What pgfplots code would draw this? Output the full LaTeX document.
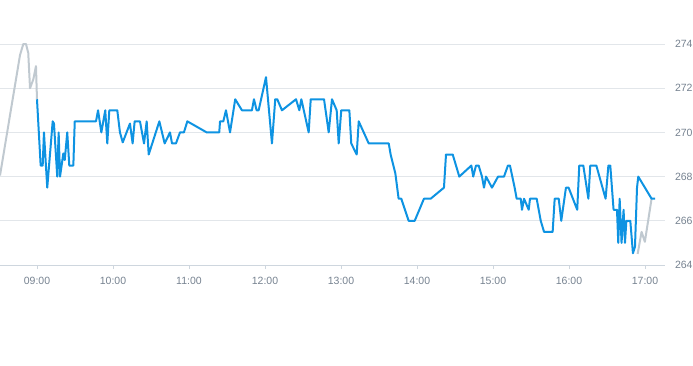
\documentclass[border=0pt]{standalone}
\usepackage{fontspec}
\setmainfont{Liberation Sans}
\usepackage{pgfplots}
\pgfplotsset{compat=1.18}
\definecolor{bluel}{RGB}{14,147,226}
\definecolor{grayl}{RGB}{192,201,208}
\definecolor{gridc}{RGB}{226,230,234}
\definecolor{axisc}{RGB}{206,214,222}
\definecolor{labc}{RGB}{118,130,144}
\begin{document}
\begin{tikzpicture}[x=1pt,y=1pt]
\path[use as bounding box] (0,-100) rectangle (693,265);
\begin{axis}[
  at={(0,0)}, anchor=south west,
  scale only axis, width=665pt, height=221pt,
  xmin=510.8, xmax=1035.8, ymin=264, ymax=274,
  clip=false,
  axis x line*=bottom, axis y line*=right,
  y axis line style={draw=none},
  x axis line style={draw=axisc, line width=0.8pt},
  ytick={264,266,...,274},
  xtick={540,600,...,1020},
  xticklabels={09:00,10:00,11:00,12:00,13:00,14:00,15:00,16:00,17:00},
  xtick align=outside,
  x tick style={draw=axisc, line width=0.8pt},
  major tick length=4pt,
  y tick style={draw=none},
  ymajorgrids, grid style={draw=gridc, line width=0.8pt},
  tick label style={font=\fontsize{10.5}{12}\selectfont, text=labc},
  yticklabel style={anchor=west, xshift=6.5pt},
  xticklabel style={yshift=-5pt},
  /pgf/number format/assume math mode=true,
  yticklabel={\pgfmathprintnumber[fixed,precision=0]{\tick}},
]
\addplot[grayl, line width=2pt, line join=round] coordinates {
(510.8,268.05) (526.6,273.5) (529.2,274) (531.3,274) (533.1,273.6) (534.5,272) (537.1,272.4) (539.2,273) (540,271.5)
};
\addplot[grayl, line width=2pt, line join=round] coordinates {
(1014.2,264.5) (1017.3,265.5) (1019.9,265.05) (1025.2,267)
};
\addplot[bluel, line width=2pt, line join=round] coordinates {
(540,271.5) (542.9,268.5) (544.5,268.5) (545.5,270) (548.1,267.5) (552.4,270.5) (553.4,270.4)
(556,268) (557.1,270) (558.2,268) (560.8,269.05) (561.9,268.75) (563.9,270) (565.5,268.5)
(568.7,268.5) (569.8,270.5) (586.6,270.5) (588.2,271) (590.8,270) (593.9,271) (595.5,269.5)
(597.1,271) (603.4,271) (605.5,270) (607.7,269.55) (613.4,270.4) (615.5,269.5) (617.1,270.5)
(621.3,270.5) (624.5,269.5) (626.6,270.5) (628.2,269) (636.6,270.5) (640.8,269.5) (645,270)
(646.6,269.5) (649.7,269.5) (652.9,270) (656,270) (658.7,270.5) (674,270) (683.9,270)
(684.5,270.5) (687.1,270.5) (689.2,271) (692.4,270) (696.5,271.5) (701.8,271) (709.7,271)
(711.3,271.5) (713.4,271) (715,271) (720.8,272.5) (725.5,269.5) (728.1,271.5) (729.7,271.5)
(733.4,271) (744.5,271.5) (747.1,271) (748.7,271.5) (754.5,270) (756.1,271.5) (766.6,271.5)
(770.3,270) (772.9,271.5) (776.6,271) (778.2,269.5) (780.2,271) (786.6,271) (788.1,269.5)
(792.4,269) (794,270.5) (801.9,269.5) (817.7,269.5) (819.2,269) (822.9,268.15) (825.5,267)
(827.6,267) (833.4,266) (838.2,266) (845.5,267) (850.8,267) (861.3,267.5) (862.9,269)
(868.2,269) (873.4,268) (882.9,268.5) (884.4,268) (886.6,268.5) (888.7,268.5) (891.3,268)
(892.9,267.5) (894.5,268) (899.2,267.5) (904,268) (908.7,268) (911.8,268.5) (913.4,268.5)
(917.1,267.5) (918.7,267) (921.9,267) (922.9,266.5) (924.5,267) (928.2,266.5) (929.2,267)
(934.5,267) (937.7,266) (940.3,265.5) (947.1,265.5) (948.7,267) (951.9,267) (953.9,266)
(957.6,267.5) (959.7,267.5) (966.5,266.5) (968.1,268.5) (971.3,268.5) (975.3,267)
(976.8,268.5) (981.6,268.5) (988.9,267) (991.1,268.5) (992.6,268.5) (995.2,266.5)
(997.9,266.5) (998.9,265) (1000,267) (1001.5,265) (1003.1,266.5) (1004.2,265) (1005.3,266)
(1008.4,266) (1010.5,264.53) (1012.1,264.83) (1013.7,267.5) (1014.7,268) (1025.2,267) (1027.9,267)
};
\end{axis}
\end{tikzpicture}
\end{document}
